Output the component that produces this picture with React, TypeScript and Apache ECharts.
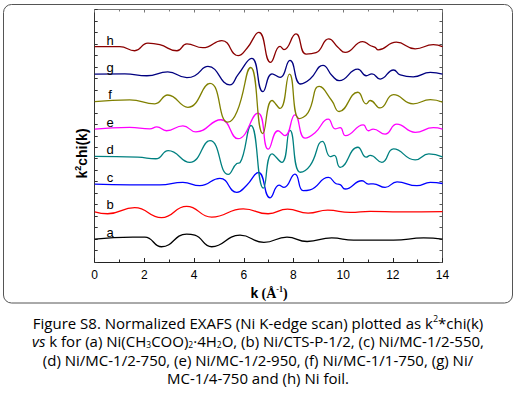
import React, { useEffect, useRef } from "react";
import * as echarts from "echarts";

// sample labels, stacking offsets and colours
const NAMES = ["a", "b", "c", "d", "e", "f", "g", "h"];
const OFFSETS = [0, 1, 2, 3, 4, 5, 6, 7];
const COLORS = ["#000000", "#ff0000", "#0000ff", "#008080", "#ff00ff", "#808000", "#000080", "#8b0000"];

// k (Å^-1) and k^2*chi(k) values, one pair of arrays per sample
const K_A = [0, 1.53, 2.02, 2.69, 3.7, 4.03, 4.71, 5.85, 6.81, 7.74, 8.55, 9.54, 10.42, 12.03, 13.24, 14];
const CHI_A = [0, 0.07, 0.07, -0.28, 0.18, 0.14, -0.28, 0.14, -0.12, 0.07, -0.09, 0.04, -0.04, -0.04, 0.04, 0];

const K_B = [0, 0.52, 1.61, 2.69, 3.7, 4.71, 5.98, 6.98, 7.76, 8.59, 9.38, 10.28, 11.09, 12.3, 14];
const CHI_B = [-0.01, -0.08, 0.14, -0.22, 0.19, -0.2, 0.1, -0.08, 0.09, -0.06, 0.05, -0.03, 0.01, -0.01, 0];

const K_C = [0, 1.41, 2.62, 3.55, 4.23, 5.04, 5.72, 6.12, 6.59, 7.06, 7.42, 7.62, 8.06, 8.39, 8.67, 9.41, 9.72, 9.88, 10.08, 10.76, 11.02, 11.21, 11.69, 12.17, 12.97, 13.51, 14];
const CHI_C = [0, -0.03, -0.03, 0.06, -0.06, 0.21, -0.3, -0.04, 0.42, -0.5, -0.04, -0.12, 0.36, -0.24, -0.21, 0.24, 0.01, -0.02, -0.18, 0.12, 0, 0.01, -0.12, 0.08, -0.06, 0.06, 0.02];

const K_D = [0, 1.73, 2.46, 2.96, 3.83, 4.64, 5.38, 5.72, 5.85, 6.29, 6.79, 7.14, 7.53, 7.86, 8.27, 8.67, 9.17, 9.48, 9.64, 9.88, 10.59, 10.93, 11.09, 11.56, 12.03, 12.9, 13.45, 14];
const CHI_D = [0.01, -0.02, -0.08, 0.22, -0.21, 0.58, -0.65, -0.25, -0.22, 1.13, -1.15, 0.1, -0.21, 0.95, -0.57, -0.33, 0.55, 0, 0.04, -0.39, 0.34, -0.02, 0.04, -0.21, 0.28, -0.12, 0.1, -0.01];

const K_E = [0, 1.41, 2.22, 2.5, 2.89, 3.55, 4.07, 5.08, 5.77, 6.57, 6.99, 7.38, 7.66, 8.06, 8.47, 8.87, 9.4, 9.68, 9.88, 10.1, 10.81, 11.01, 11.21, 11.69, 12.16, 12.9, 13.63, 14];
const CHI_E = [0, 0.06, 0.01, 0.08, -0.06, 0.12, -0.1, 0.34, -0.35, 0.58, -0.73, -0.06, -0.24, 0.52, -0.33, -0.13, 0.36, 0.01, 0.05, -0.24, 0.15, -0.06, 0, -0.18, 0.18, -0.12, 0.05, 0];

const K_F = [0, 1.41, 2.42, 2.94, 3.75, 4.64, 5.36, 5.73, 6.28, 6.77, 7.14, 7.46, 7.84, 8.23, 8.59, 9.04, 9.54, 9.84, 10.59, 10.93, 11.09, 11.49, 12.03, 12.82, 13.51, 14];
const CHI_F = [0, 0.06, -0.08, 0.24, -0.21, 0.66, -0.75, -0.36, 1.24, -1.16, 0.04, -0.25, 1.0, -0.62, -0.4, 0.55, 0.04, -0.36, 0.34, -0.08, 0.04, -0.23, 0.25, -0.08, 0.07, -0.02];

const K_G = [0, 1.21, 2.1, 2.94, 3.71, 4.03, 4.56, 5.44, 5.77, 6.32, 6.77, 7.14, 7.46, 7.86, 8.29, 8.67, 9.19, 9.56, 9.84, 10.59, 10.93, 11.16, 11.49, 12.03, 12.3, 12.82, 13.51, 14];
const CHI_G = [0, 0.01, -0.06, 0.08, -0.13, -0.06, 0.28, -0.39, -0.02, 0.57, -0.64, 0.01, -0.12, 0.5, -0.36, -0.18, 0.32, -0.06, -0.24, 0.18, -0.06, 0.01, -0.18, 0.15, -0.03, -0.1, 0.06, 0];

const K_H = [0, 1.01, 1.61, 2.14, 2.62, 3.31, 3.71, 4.35, 5.12, 5.77, 6.13, 6.61, 7.08, 7.46, 7.62, 8.1, 8.51, 8.91, 9.42, 9.8, 10.08, 10.79, 11.09, 11.29, 11.41, 12.14, 12.9, 13.63, 14];
const CHI_H = [0, 0, -0.15, 0.13, 0.07, -0.15, 0.1, -0.04, 0.22, -0.33, -0.06, 0.52, -0.57, 0.01, -0.11, 0.46, -0.27, -0.22, 0.28, -0.03, -0.21, 0.18, 0.04, -0.03, -0.12, 0.16, -0.08, 0.07, 0];

const K_LIST = [K_A, K_B, K_C, K_D, K_E, K_F, K_G, K_H];
const CHI_LIST = [CHI_A, CHI_B, CHI_C, CHI_D, CHI_E, CHI_F, CHI_G, CHI_H];

const X_TICKS = { min: 0, max: 14, interval: 2 };

const CAPTION = [
  "Figure S8. Normalized EXAFS (Ni K-edge scan) plotted as k{sup|2}*chi(k)",
  "{i|vs} k for (a) Ni(CH{sub|3}COO){sub|2}·4H{sub|2}O, (b) Ni/CTS-P-1/2, (c) Ni/MC-1/2-550,",
  "(d) Ni/MC-1/2-750, (e) Ni/MC-1/2-950, (f) Ni/MC-1/1-750, (g) Ni/",
  "MC-1/4-750 and (h) Ni foil.",
];

const SANS = "'Liberation Sans', Arial, sans-serif";
const CAP_FONT = "'Open Sans', 'Noto Sans', sans-serif";

export default function App() {
  const ref = useRef<HTMLDivElement>(null);

  useEffect(() => {
    if (!ref.current) return;
    const chart = echarts.init(ref.current, undefined, { renderer: "svg" });

    const series = NAMES.map((name, i) => ({
      type: "line",
      name,
      data: K_LIST[i].map((k, j) => [k, CHI_LIST[i][j] + OFFSETS[i]]),
      smooth: 0.5,
      symbol: "none",
      lineStyle: { color: COLORS[i], width: 1.3 },
      itemStyle: { color: COLORS[i] },
      markPoint: {
        symbol: "rect",
        symbolSize: 1,
        silent: true,
        itemStyle: { color: "rgba(0,0,0,0)" },
        label: {
          show: true,
          position: "inside",
          formatter: name,
          color: "#000",
          fontSize: 13,
          fontFamily: SANS,
        },
        data: [{ coord: [0.62, OFFSETS[i] + 0.24] }],
      },
    }));

    const CF = 15;
    const capRich = {
      n: { fontSize: CF, fontFamily: CAP_FONT, color: "#000", lineHeight: 17 },
      i: { fontSize: CF, fontFamily: CAP_FONT, color: "#000", fontStyle: "italic", lineHeight: 17 },
      sub: { fontSize: 8.5, fontFamily: CAP_FONT, color: "#000", verticalAlign: "bottom", lineHeight: 8 },
      sup: { fontSize: 9, fontFamily: CAP_FONT, color: "#000", verticalAlign: "top", lineHeight: 9 },
    };
    const capY = [322.5, 340.9, 359.7, 378.3];

    const option: any = {
      animation: false,
      grid: { left: 94.7, right: 75.5, top: 9.5, bottom: 137 },
      xAxis: [
        {
          type: "value",
          ...X_TICKS,
          position: "bottom",
          axisLine: { show: true, onZero: false, lineStyle: { color: "#222", width: 1 } },
          axisTick: { show: true, inside: true, length: 4, lineStyle: { color: "#222" } },
          minorTick: { show: true, splitNumber: 2, length: 2.5, lineStyle: { color: "#222" } },
          splitLine: { show: false },
          axisLabel: { color: "#000", fontSize: 12, fontFamily: SANS, margin: 7 },
        },
        {
          type: "value",
          ...X_TICKS,
          position: "top",
          axisLine: { show: true, onZero: false, lineStyle: { color: "#777", width: 1 } },
          axisTick: { show: true, inside: true, length: 3, lineStyle: { color: "#777" } },
          minorTick: { show: true, splitNumber: 2, length: 2, lineStyle: { color: "#777" } },
          splitLine: { show: false },
          axisLabel: { show: false },
        },
      ],
      yAxis: [
        {
          type: "value",
          min: -0.835,
          max: 8.35,
          interval: 0.4175,
          position: "left",
          axisLine: { show: true, onZero: false, lineStyle: { color: "#333" } },
          axisTick: { show: true, inside: true, length: 3, lineStyle: { color: "#333" } },
          axisLabel: { show: false },
          splitLine: { show: false },
        },
        {
          type: "value",
          min: -0.835,
          max: 8.35,
          interval: 0.4175,
          position: "right",
          axisLine: { show: true, onZero: false, lineStyle: { color: "#555" } },
          axisTick: { show: true, inside: true, length: 3, lineStyle: { color: "#555" } },
          axisLabel: { show: false },
          splitLine: { show: false },
        },
      ],
      series,
      graphic: [
        {
          type: "rect",
          z: -10,
          silent: true,
          shape: { x: 3.5, y: 4.5, width: 509, height: 298.5, r: 8 },
          style: { fill: "none", stroke: "#555", lineWidth: 1 },
        },
        {
          type: "text",
          x: 81.5,
          y: 153.5,
          rotation: Math.PI / 2,
          style: {
            text: "{b|k}{s|2}{b|chi(k)}",
            align: "center",
            verticalAlign: "middle",
            rich: {
              b: { fontSize: 14, fontWeight: "bold", fontFamily: SANS, color: "#000", lineHeight: 16 },
              s: { fontSize: 9, fontWeight: "bold", fontFamily: SANS, color: "#000", verticalAlign: "top", lineHeight: 10 },
            },
          },
        },
        {
          type: "text",
          x: 269,
          y: 293,
          style: {
            text: "{b|k} {t|(Å}{s|-1}{t|)}",
            align: "center",
            verticalAlign: "middle",
            rich: {
              b: { fontSize: 14, fontWeight: "bold", fontFamily: SANS, color: "#000", lineHeight: 16 },
              t: { fontSize: 14, fontWeight: "bold", fontFamily: "'Liberation Serif', 'Times New Roman', serif", color: "#000", lineHeight: 16 },
              s: { fontSize: 8, fontWeight: "bold", fontFamily: "'Liberation Serif', serif", color: "#000", verticalAlign: "top", lineHeight: 10 },
            },
          },
        },
        ...CAPTION.map((line, i) => ({
          type: "text",
          x: 258,
          y: capY[i],
          style: {
            text: line.replace(/(^|\})([^{}]+)(?=\{|$)/g, (m, p1, p2) => `${p1}{n|${p2}}`),
            align: "center",
            verticalAlign: "middle",
            rich: capRich,
          },
        })),
      ],
    };

    chart.setOption(option);
    return () => chart.dispose();
  }, []);

  return (
    <div
      ref={ref}
      style={{ position: "fixed", left: 0, top: 0, width: 518, height: 399, background: "#fff" }}
    />
  );
}
